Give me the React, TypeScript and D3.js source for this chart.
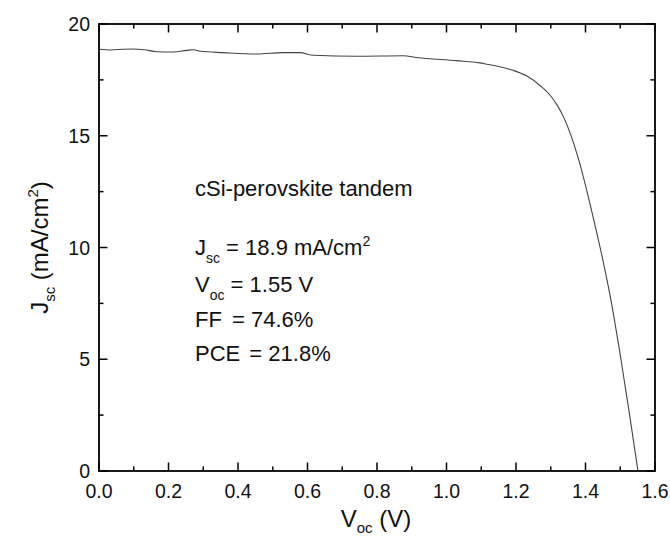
import React from "react";
import * as d3 from "d3";

const voltage = [0.0, 0.035, 0.07, 0.099, 0.13, 0.166, 0.214, 0.252, 0.271, 0.291, 0.358, 0.454, 0.53, 0.578, 0.617, 0.742, 0.876, 0.914, 1.029, 1.096, 1.116, 1.15, 1.191, 1.23, 1.269, 1.3, 1.318, 1.338, 1.355, 1.38, 1.398, 1.422, 1.442, 1.472, 1.502, 1.527, 1.551];
const current = [18.87, 18.84, 18.87, 18.88, 18.85, 18.76, 18.75, 18.82, 18.85, 18.78, 18.72, 18.66, 18.72, 18.72, 18.6, 18.56, 18.58, 18.5, 18.36, 18.26, 18.2, 18.1, 17.93, 17.68, 17.25, 16.78, 16.38, 15.8, 15.15, 13.95, 12.9, 11.35, 10.0, 7.75, 5.0, 2.5, 0];

const xMajorTicks = [0, 0.2, 0.4, 0.6, 0.8, 1.0, 1.2, 1.4, 1.6];
const xMinorTicks = [0.1, 0.3, 0.5, 0.7, 0.9, 1.1, 1.3, 1.5];
const yMajorTicks = [0, 5, 10, 15, 20];
const yMinorTicks = [2.5, 7.5, 12.5, 17.5];

const W = 670, H = 538;
const L = 99, R = 655, T = 24, B = 471;
const FONT = "'Liberation Sans', Arial, sans-serif";

export default function App() {
  const x = d3.scaleLinear().domain([0, 1.6]).range([L, R]);
  const y = d3.scaleLinear().domain([0, 20]).range([B, T]);
  const pts = voltage.map((v, i) => [v, current[i]] as [number, number]);
  const line = d3.line<[number, number]>().x(d => x(d[0])).y(d => y(d[1])).curve(d3.curveMonotoneX);
  const MAJ = 8.5, MIN = 4.5;
  return (
    <svg width={W} height={H} style={{ position: "absolute", left: 0, top: 0, background: "#fff" }} fontFamily={FONT}>
      <rect x={0} y={0} width={W} height={H} fill="#fff" />
      <path d={line(pts) || ""} fill="none" stroke="#444" strokeWidth={1.1} />
      <rect x={L} y={T} width={R - L} height={B - T} fill="none" stroke="#000" strokeWidth={1.8} />
      {xMajorTicks.map(t => (
        <g key={"xm" + t}>
          <line x1={x(t)} x2={x(t)} y1={B} y2={B - MAJ} stroke="#000" strokeWidth={1.5} />
          <line x1={x(t)} x2={x(t)} y1={T} y2={T + MAJ} stroke="#000" strokeWidth={1.5} />
          <text x={x(t)} y={498} textAnchor="middle" fontSize={19.5} fill="#111">{t.toFixed(1)}</text>
        </g>
      ))}
      {xMinorTicks.map(t => (
        <g key={"xn" + t}>
          <line x1={x(t)} x2={x(t)} y1={B} y2={B - MIN} stroke="#000" strokeWidth={1.5} />
          <line x1={x(t)} x2={x(t)} y1={T} y2={T + MIN} stroke="#000" strokeWidth={1.5} />
        </g>
      ))}
      {yMajorTicks.map(t => (
        <g key={"ym" + t}>
          <line x1={L} x2={L + MAJ} y1={y(t)} y2={y(t)} stroke="#000" strokeWidth={1.5} />
          <line x1={R} x2={R - MAJ} y1={y(t)} y2={y(t)} stroke="#000" strokeWidth={1.5} />
          <text x={90} y={y(t) + 7} textAnchor="end" fontSize={19.5} fill="#111">{t}</text>
        </g>
      ))}
      {yMinorTicks.map(t => (
        <g key={"yn" + t}>
          <line x1={L} x2={L + MIN} y1={y(t)} y2={y(t)} stroke="#000" strokeWidth={1.5} />
          <line x1={R} x2={R - MIN} y1={y(t)} y2={y(t)} stroke="#000" strokeWidth={1.5} />
        </g>
      ))}
      <text x={376} y={527} textAnchor="middle" fontSize={24} fill="#111">
        V<tspan fontSize={15} dy={6}>oc</tspan><tspan dy={-6}> (V)</tspan>
      </text>
      <text transform={`translate(48, ${(T + B) / 2}) rotate(-90)`} textAnchor="middle" fontSize={24} fill="#111">
        J<tspan fontSize={15} dy={7}>sc</tspan><tspan dy={-7}> (mA/cm</tspan><tspan fontSize={15} dy={-10}>2</tspan><tspan dy={10}>)</tspan>
      </text>
      <g fontSize={22} fill="#111">
        <text x={195} y={196}>cSi-perovskite tandem</text>
        <text x={195} y={255}>J<tspan fontSize={14} dy={8}>sc</tspan><tspan dy={-8}> = 18.9 mA/cm</tspan><tspan fontSize={14} dy={-9}>2</tspan></text>
        <text x={195} y={292}>V<tspan fontSize={14} dy={8}>oc</tspan><tspan dy={-8}> = 1.55 V</tspan></text>
        <text x={195} y={327}>FF <tspan dx={4}>= 74.6%</tspan></text>
        <text x={195} y={361}>PCE <tspan dx={3}>= 21.8%</tspan></text>
      </g>
    </svg>
  );
}
